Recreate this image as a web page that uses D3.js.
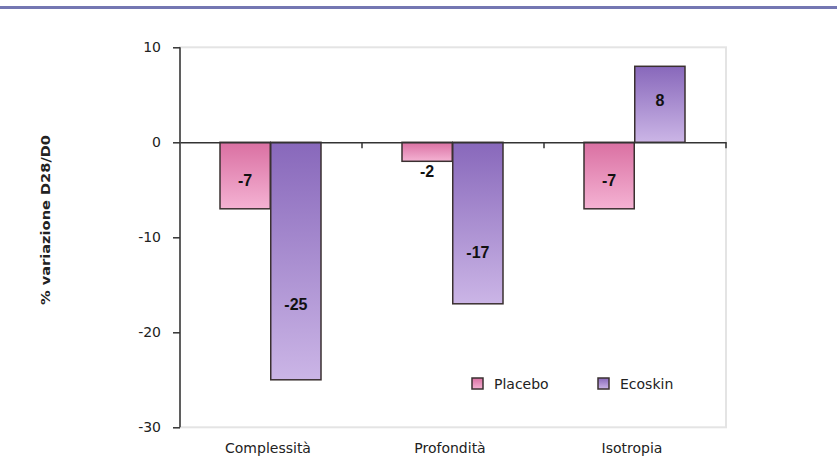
<!DOCTYPE html>
<html>
<head>
<meta charset="utf-8">
<script src="https://cdn.jsdelivr.net/npm/d3@7"></script>
<style>
  body { margin: 0; background: #fff; }
  text { font-family: "DejaVu Sans", sans-serif; fill: #222; }
</style>
</head>
<body>
<svg id="chart" width="837" height="472"></svg>
<script>
// Data
var categories = ["Complessità", "Profondità", "Isotropia"];
var seriesNames = ["Placebo", "Ecoskin"];
var placebo = [-7, -2, -7];
var ecoskin = [-25, -17, 8];
var yTicks = [10, 0, -10, -20, -30];

var svg = d3.select("svg#chart");

// top rule
svg.append("rect").attr("x", 0).attr("y", 6).attr("width", 837).attr("height", 3).attr("fill", "#7477b2");

var margin = {left: 180, right: 111, top: 47.3, bottom: 44.7};
var width = 837 - margin.left - margin.right;
var height = 472 - margin.top - margin.bottom;

var defs = svg.append("defs");
var gradPink = defs.append("linearGradient").attr("id", "gPink").attr("x1", 0).attr("y1", 0).attr("x2", 0).attr("y2", 1);
gradPink.append("stop").attr("offset", "0%").attr("stop-color", "#da70a2");
gradPink.append("stop").attr("offset", "100%").attr("stop-color", "#f4b2d3");
var gradPurple = defs.append("linearGradient").attr("id", "gPurple").attr("x1", 0).attr("y1", 0).attr("x2", 0).attr("y2", 1);
gradPurple.append("stop").attr("offset", "0%").attr("stop-color", "#8868bb");
gradPurple.append("stop").attr("offset", "100%").attr("stop-color", "#cbb5e6");

var g = svg.append("g").attr("transform", "translate(" + margin.left + "," + margin.top + ")");

var x = d3.scaleBand().domain(categories).range([0, width]);
var xs = d3.scaleBand().domain(seriesNames).range([x.bandwidth() / 2 - 51, x.bandwidth() / 2 + 50]).paddingInner(0.01);
var y = d3.scaleLinear().domain([-30, 10]).range([height, 0]);

// plot area frame
g.append("rect").attr("x", 0).attr("y", 0).attr("width", width).attr("height", height)
  .attr("fill", "none").attr("stroke", "#e4e4e4").attr("stroke-width", 2);

// bars
var fills = {Placebo: "url(#gPink)", Ecoskin: "url(#gPurple)"};
var rows = [];
categories.forEach(function(c, i) {
  rows.push({cat: c, s: "Placebo", v: placebo[i]});
  rows.push({cat: c, s: "Ecoskin", v: ecoskin[i]});
});

g.selectAll("rect.bar").data(rows).enter().append("rect").attr("class", "bar")
  .attr("x", function(d) { return x(d.cat) + xs(d.s); })
  .attr("width", xs.bandwidth())
  .attr("y", function(d) { return y(Math.max(0, d.v)); })
  .attr("height", function(d) { return Math.abs(y(d.v) - y(0)); })
  .attr("fill", function(d) { return fills[d.s]; })
  .attr("stroke", "#3a3030").attr("stroke-width", 1.5);

// value labels
g.selectAll("text.val").data(rows).enter().append("text").attr("class", "val")
  .attr("x", function(d) { return x(d.cat) + xs(d.s) + xs.bandwidth() / 2; })
  .attr("y", function(d) {
    if (Math.abs(d.v) < 4) return y(d.v) + 16;
    return y(d.v * (Math.abs(d.v) > 10 ? 0.68 : 0.56)) + 6;
  })
  .attr("text-anchor", "middle")
  .style("font-family", "'Liberation Sans', Arial, sans-serif")
  .style("font-size", "16px").style("font-weight", "bold").style("fill", "#111")
  .text(function(d) { return d.v; });

// y axis
var yAxis = d3.axisLeft(y).tickValues(yTicks).tickSize(7).tickPadding(12).tickFormat(function(d) { return String(d); });
var ya = g.append("g").call(yAxis);
ya.select(".domain").attr("stroke", "#333").attr("stroke-width", 1.5).attr("d", "M0," + y(10) + "V" + y(-30));
ya.selectAll(".tick line").attr("stroke", "#333").attr("stroke-width", 1.5);
ya.selectAll(".tick text").style("font-size", "14px").style("fill", "#222")
  .style("font-family", "'DejaVu Sans', sans-serif");

// zero axis with category ticks
var xAxis = d3.axisBottom(x).tickSize(0).tickFormat("");
var xa = g.append("g").attr("transform", "translate(0," + y(0) + ")").call(xAxis);
xa.select(".domain").attr("stroke", "#333").attr("stroke-width", 1.5);
g.selectAll("line.ctick").data(categories).enter().append("line").attr("class", "ctick")
  .attr("x1", function(d) { return x(d) + x.bandwidth(); }).attr("x2", function(d) { return x(d) + x.bandwidth(); })
  .attr("y1", y(0)).attr("y2", y(0) + 6)
  .attr("stroke", "#333").attr("stroke-width", 1.5);

// category labels
g.selectAll("text.cat").data(categories).enter().append("text").attr("class", "cat")
  .attr("x", function(d) { return x(d) + x.bandwidth() / 2 - 3; })
  .attr("y", height + 26)
  .attr("text-anchor", "middle")
  .style("font-size", "14px")
  .text(function(d) { return d; });

// y title
svg.append("text").attr("transform", "translate(50," + 220 + ") rotate(-90)")
  .attr("text-anchor", "middle").style("font-size", "13px").style("font-weight", "bold")
  .attr("textLength", 170).attr("lengthAdjust", "spacingAndGlyphs")
  .text("% variazione D28/D0");

// legend
var legendX = [472, 598];
var leg = svg.selectAll("g.leg").data(seriesNames).enter().append("g").attr("class", "leg")
  .attr("transform", function(d, i) { return "translate(" + legendX[i] + ",378)"; });
leg.append("rect").attr("width", 11).attr("height", 11)
  .attr("fill", function(d) { return fills[d]; }).attr("stroke", "#3a3030").attr("stroke-width", 1.5);
leg.append("text").attr("x", 22).attr("y", 11).style("font-size", "14px").text(function(d) { return d; });
</script>
</body>
</html>
